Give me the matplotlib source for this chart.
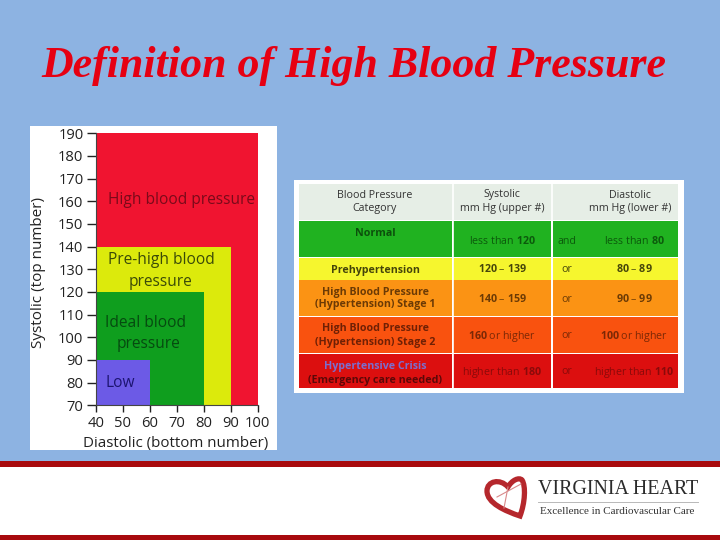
import matplotlib
matplotlib.use("Agg")
import matplotlib.pyplot as plt
from matplotlib.patches import Rectangle, PathPatch
from matplotlib.path import Path

# blood pressure zones, outermost first
zone_names = ["High", "Pre-high", "Ideal", "Low"]
zone_diastolic = [100, 90, 80, 60]
zone_systolic = [190, 140, 120, 90]
zone_colors = ["#f01430", "#dcea0c", "#0f9e1e", "#6c5ae6"]

systolic_ticks = [70, 80, 90, 100, 110, 120, 130, 140, 150, 160, 170, 180, 190]
diastolic_ticks = [40, 50, 60, 70, 80, 90, 100]

# table, $...$ marks the bold number inside a cell
row_colors = ["#20b220", "#f6f62e", "#fb9314", "#f9520f", "#dc0f0f"]
row_tops = [221, 258, 280, 317, 354]
row_bottoms = [257, 280, 316, 353, 388]
joiners = ["and", "or", "or", "or", "or"]
systolic_cells = ["less than $\\mathbf{120}$", "$\\mathbf{120}$ – $\\mathbf{139}$",
                  "$\\mathbf{140}$ – $\\mathbf{159}$", "$\\mathbf{160}$ or higher",
                  "higher than $\\mathbf{180}$"]
diastolic_cells = ["less than $\\mathbf{80}$", "$\\mathbf{80}$ – $\\mathbf{89}$",
                   "$\\mathbf{90}$ – $\\mathbf{99}$", "$\\mathbf{100}$ or higher",
                   "higher than $\\mathbf{110}$"]

plt.rcParams["font.family"] = ["Open Sans", "DejaVu Sans"]
plt.rcParams["mathtext.fontset"] = "custom"
plt.rcParams["mathtext.rm"] = "Open Sans"
plt.rcParams["mathtext.bf"] = "Open Sans:bold"

fig = plt.figure(figsize=(7.2, 5.4), dpi=100, facecolor="#8db3e2")

# overlay in pixel coords for everything that isn't the chart
bg = fig.add_axes([0, 0, 1, 1])
bg.set_xlim(0, 720)
bg.set_ylim(540, 0)
bg.axis("off")


def box(x0, y0, x1, y1, color, z=1):
    bg.add_patch(Rectangle((x0, y0), x1 - x0, y1 - y0, fc=color, ec="none", zorder=z))


bg.text(354, 66, "Definition of High Blood Pressure", family="Liberation Serif",
        style="italic", weight="bold", fontsize=31.6, color="#e60012", ha="center", va="center")

# footer
box(0, 461, 720, 535, "white")
box(0, 461, 720, 467, "#a80a0e", 2)
box(0, 535, 720, 540, "#a80a0e", 2)

# logo
heart = Path(
    [(520, 516), (505, 511), (487, 503), (487, 491), (487, 481), (500, 478), (508, 487),
     (512, 480), (519, 477), (522, 480), (526, 486), (525, 503), (520, 516), (520, 516)],
    [Path.MOVETO, Path.CURVE4, Path.CURVE4, Path.CURVE4, Path.CURVE4, Path.CURVE4, Path.CURVE4,
     Path.CURVE4, Path.CURVE4, Path.CURVE4, Path.CURVE4, Path.CURVE4, Path.CURVE4, Path.CLOSEPOLY])
bg.add_patch(PathPatch(heart, fc="white", ec="#b5272c", lw=3.8, zorder=3))
bg.plot([508, 504], [487, 508], color="#d9898a", lw=0.8, zorder=4)
bg.plot([497, 521], [497, 484], color="#d9898a", lw=0.8, zorder=4)
bg.text(538, 490, "VIRGINIA HEART", family="Liberation Serif", fontsize=14.4,
        color="#2b2b2b", va="center", ha="left", zorder=4)
bg.plot([538, 698], [502, 502], color="#b8b8b8", lw=0.7, zorder=4)
bg.text(540, 511.5, "Excellence in Cardiovascular Care", family="Liberation Serif", fontsize=8,
        color="#333333", va="center", ha="left", zorder=4)

# left chart white panel
box(30, 126, 277, 450, "white")

# table
box(294, 180, 684, 393, "white")
box(299, 184, 678, 220, "#e6eee6", 2)
col_edges = [(299, 452), (453, 551), (553, 678)]
for color, top, bottom in zip(row_colors, row_tops, row_bottoms):
    for x0, x1 in col_edges:
        box(x0, top, x1, bottom, color, 2)
bg.plot([452.5, 452.5], [184, 388], color="white", lw=1.2, zorder=3)
bg.plot([552, 552], [184, 388], color="white", lw=1.2, zorder=3)

hdr = dict(fontsize=7.7, color="#333333", ha="center", va="center", zorder=5)
bg.text(375, 195, "Blood Pressure", **hdr)
bg.text(375, 209, "Category", **hdr)
bg.text(502, 195, "Systolic", **hdr)
bg.text(502, 209, "mm Hg (upper #)", **hdr)
bg.text(630, 195, "Diastolic", **hdr)
bg.text(630, 209, "mm Hg (lower #)", **hdr)

cell = dict(fontsize=7.7, ha="center", zorder=5)
base = 3.5  # baseline offset below the row centre
bg.text(375, 232 + base, "Normal", color="#0c4f0c", weight="bold", **cell)
bg.text(375, 269 + base, "Prehypertension", color="#45450a", weight="bold", **cell)
bg.text(375, 291 + base, "High Blood Pressure", color="#6b3a05", weight="bold", **cell)
bg.text(375, 304 + base, "(Hypertension) Stage 1", color="#6b3a05", weight="bold", **cell)
bg.text(375, 328 + base, "High Blood Pressure", color="#6f2005", weight="bold", **cell)
bg.text(375, 342 + base, "(Hypertension) Stage 2", color="#6f2005", weight="bold", **cell)
bg.text(375, 365 + base, "Hypertensive Crisis", color="#7b6fd0", weight="bold", **cell)
bg.text(375, 379 + base, "(Emergency care needed)", color="#5c0808", weight="bold", **cell)

text_colors = ["#0c5a0c", "#45450a", "#6b3a05", "#7a2806", "#8a0a0a"]

for i, top in enumerate(row_tops):
    y = (top + row_bottoms[i]) / 2 + (1 if i == 0 else 0) + base
    bg.text(502, y, systolic_cells[i], color=text_colors[i], **cell)
    bg.text(634, y, diastolic_cells[i], color=text_colors[i], **cell)
    bg.text(567, y, joiners[i], color=text_colors[i], **cell)

# the chart itself
ax = fig.add_axes([96 / 720, 1 - 405.3 / 540, (257.7 - 96) / 720, (405.3 - 133.3) / 540])
ax.patch.set_alpha(0)
for d, s, c in zip(zone_diastolic, zone_systolic, zone_colors):
    ax.bar(40, s - 70, width=d - 40, bottom=70, align="edge", color=c, linewidth=0)
ax.set_xlim(40, 100)
ax.set_ylim(70, 190)
ax.set_xticks(diastolic_ticks)
ax.set_yticks(systolic_ticks)
ax.tick_params(axis="both", labelsize=10.6, length=5, width=1, color="#222222",
               labelcolor="#222222", pad=2.5)
ax.tick_params(axis="y", length=6.5, pad=2.5)
for side in ["top", "right"]:
    ax.spines[side].set_visible(False)
for side in ["left", "bottom"]:
    ax.spines[side].set_linewidth(0.8)
    ax.spines[side].set_color("#444444")

ax.text(44.5, 160.5, "High blood pressure", fontsize=11.2, color="#7a0a1a", va="center")
ax.text(84, 134, "Pre-high blood", fontsize=11.2, color="#3a4a08", va="center", ha="right")
ax.text(64, 124.5, "pressure", fontsize=11.2, color="#3a4a08", va="center", ha="center")
ax.text(43.5, 106.5, "Ideal blood", fontsize=11.2, color="#064a10", va="center")
ax.text(59.5, 97, "pressure", fontsize=11.2, color="#064a10", va="center", ha="center")
ax.text(43.5, 80, "Low", fontsize=11.2, color="#1c1470", va="center")

bg.text(176, 444, "Diastolic (bottom number)", fontsize=10.9, color="#222222",
        ha="center", va="center", zorder=3)
bg.text(39, 272, "Systolic (top number)", fontsize=11, color="#222222", rotation=90,
        ha="center", va="center", zorder=3)
# label runs past the panel in the reference, blue strip cuts it
box(30, 450, 280, 461, "#8db3e2", 4)

fig.savefig("out.png", dpi=100, facecolor=fig.get_facecolor())
